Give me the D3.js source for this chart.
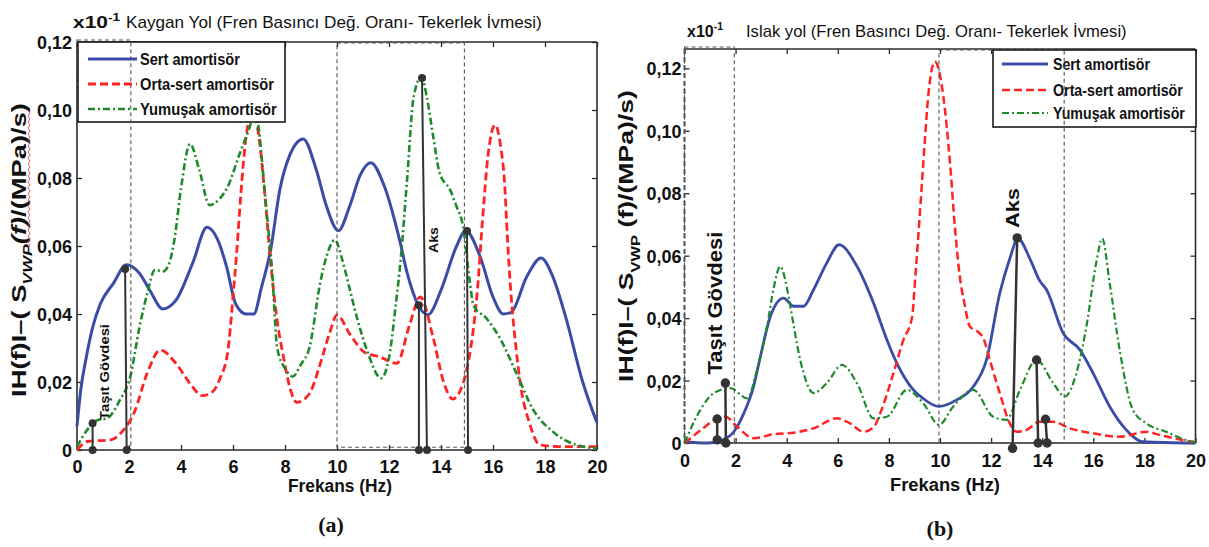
<!DOCTYPE html>
<html>
<head>
<meta charset="utf-8">
<script src="https://cdn.jsdelivr.net/npm/d3@7"></script>
<style>
  html, body { margin: 0; padding: 0; background: #fff; }
  svg { display: block; }
</style>
</head>
<body>
<svg id="fig" width="1209" height="547"></svg>
<script>
// ---------- shared axis data ----------
const freqTicks = [0, 2, 4, 6, 8, 10, 12, 14, 16, 18, 20];
const freqTickLabels = ["0", "2", "4", "6", "8", "10", "12", "14", "16", "18", "20"];
const ampTicks = [0, 0.02, 0.04, 0.06, 0.08, 0.10, 0.12];
const ampTickLabels = ["0", "0,02", "0,04", "0,06", "0,08", "0,10", "0,12"];
const seriesNames = ["Sert amortisör", "Orta-sert amortisör", "Yumuşak amortisör"];

// ---------- (a) slippery road: [frequency Hz, |H(f)|] ----------
const sertA = [
  [0, 0.007], [0.15, 0.018], [0.35, 0.027], [0.6, 0.036], [0.9, 0.043], [1.4, 0.049],
  [1.9, 0.0545], [2.4, 0.052], [2.8, 0.047], [3.3, 0.0415], [3.8, 0.044], [4.45, 0.055],
  [5.0, 0.0655], [5.4, 0.062], [5.75, 0.054], [6.1, 0.043], [6.5, 0.040], [6.8, 0.040],
  [7.1, 0.048], [7.45, 0.059], [7.8, 0.0765], [8.2, 0.087], [8.7, 0.0915], [9.2, 0.0825],
  [9.6, 0.0716], [10.05, 0.0645], [10.5, 0.072], [10.9, 0.081], [11.3, 0.0845], [11.8, 0.078],
  [12.4, 0.062], [12.7, 0.052], [13.1, 0.043], [13.5, 0.0398], [14.0, 0.047], [14.6, 0.060],
  [14.95, 0.0645], [15.5, 0.057], [16.0, 0.045], [16.4, 0.040], [16.7, 0.0405], [17.3, 0.051],
  [17.85, 0.0565], [18.3, 0.051], [18.8, 0.039], [19.45, 0.020], [20, 0.008]
];
const ortaA = [
  [0, 0], [0.4, 0.0025], [1.3, 0.003], [1.8, 0.006], [2.2, 0.011], [2.7, 0.0226], [3.2, 0.0294],
  [3.8, 0.0255], [4.4, 0.019], [4.8, 0.016], [5.15, 0.0167], [5.5, 0.021], [5.8, 0.029],
  [6.0, 0.045], [6.15, 0.059], [6.3, 0.075], [6.5, 0.092], [6.75, 0.099], [7.0, 0.092],
  [7.2, 0.077], [7.45, 0.055], [7.7, 0.038], [7.95, 0.027], [8.2, 0.018], [8.45, 0.014],
  [8.95, 0.0167], [9.3, 0.024], [9.7, 0.034], [10.0, 0.0397], [10.5, 0.034], [11.1, 0.0285],
  [11.6, 0.0275], [12.3, 0.0255], [12.8, 0.037], [13.2, 0.045], [13.7, 0.033], [14.1, 0.020],
  [14.45, 0.015], [14.85, 0.0196], [15.0, 0.024], [15.2, 0.033], [15.4, 0.047], [15.6, 0.068],
  [15.8, 0.086], [16.08, 0.0956], [16.3, 0.089], [16.45, 0.078], [16.55, 0.063], [16.7, 0.045],
  [16.9, 0.029], [17.05, 0.0196], [17.4, 0.008], [17.8, 0.0015], [18.5, 0.001], [20, 0.001]
];
const yumusakA = [
  [0, 0.001], [0.4, 0.006], [0.8, 0.0088], [1.15, 0.0093], [1.65, 0.0147], [2.05, 0.0216],
  [2.4, 0.036], [2.7, 0.046], [3.0, 0.053], [3.3, 0.0525], [3.55, 0.055], [3.75, 0.062],
  [4.0, 0.077], [4.35, 0.090], [4.7, 0.0825], [5.1, 0.072], [5.5, 0.074], [5.8, 0.0775],
  [6.25, 0.087], [6.6, 0.094], [6.85, 0.099], [7.0, 0.094], [7.15, 0.082], [7.3, 0.0696],
  [7.5, 0.053], [7.7, 0.030], [8.0, 0.024], [8.3, 0.0216], [8.6, 0.025], [8.95, 0.0304],
  [9.35, 0.049], [9.6, 0.057], [9.92, 0.0618], [10.2, 0.056], [10.5, 0.047], [10.8, 0.038],
  [11.15, 0.0294], [11.7, 0.0211], [12.05, 0.0294], [12.25, 0.042], [12.45, 0.056], [12.7, 0.080],
  [12.95, 0.104], [13.25, 0.1098], [13.45, 0.104], [13.7, 0.0922], [13.95, 0.0814], [14.35, 0.0765],
  [14.6, 0.0716], [14.85, 0.0657], [15.1, 0.050], [15.25, 0.0425], [15.75, 0.0387], [16.3, 0.0324],
  [16.9, 0.0226], [17.55, 0.0118], [18.3, 0.0054], [19.2, 0.0015], [20, 0.0005]
];
// resonance markers (top frequency, base frequency, amplitude)
const stemTopFreqA = [0.6, 1.85, 13.15, 13.27, 15.0];
const stemBaseFreqA = [0.6, 1.91, 13.15, 13.46, 15.04];
const stemValA = [0.0079, 0.0532, 0.0426, 0.1094, 0.0644];
const stemBaseValA = [0, 0, 0, 0, 0];
const bodyBandA = [0, 2.07];
const axleBandA = [10, 14.9];

// ---------- (b) wet road ----------
const sertB = [
  [0, 0.0004], [0.9, 0], [1.5, 0.001], [1.93, 0.0036], [2.32, 0.0095], [2.7, 0.018],
  [2.97, 0.0277], [3.36, 0.0405], [3.88, 0.0464], [4.27, 0.0438], [4.66, 0.0438], [5.05, 0.0491],
  [5.57, 0.0577], [6.05, 0.0635], [6.75, 0.0566], [7.4, 0.0448], [7.92, 0.0331], [8.31, 0.0256],
  [8.96, 0.017], [9.3, 0.0145], [9.96, 0.0117], [10.65, 0.0138], [11.3, 0.018], [11.82, 0.0266],
  [12.34, 0.048], [12.73, 0.059], [13.05, 0.0655], [13.52, 0.059], [13.9, 0.052], [14.17, 0.0491],
  [14.82, 0.0352], [15.47, 0.0299], [15.99, 0.0224], [16.64, 0.0117], [17.29, 0.0042],
  [17.94, 0.0004], [20, 0]
];
const ortaB = [
  [0, 0], [0.62, 0.004], [1.28, 0.0079], [1.6, 0.0084], [2.06, 0.0052], [2.71, 0.0015],
  [3.49, 0.0028], [4.27, 0.0033], [5.05, 0.0047], [5.96, 0.0079], [6.48, 0.0063], [7.0, 0.0036],
  [7.4, 0.005], [7.66, 0.0095], [8.18, 0.0224], [8.57, 0.0331], [8.9, 0.040], [9.05, 0.055],
  [9.2, 0.072], [9.35, 0.090], [9.55, 0.112], [9.8, 0.1222], [10.13, 0.111], [10.39, 0.0898],
  [10.59, 0.0684], [10.78, 0.053], [10.95, 0.045], [11.17, 0.0373], [11.5, 0.0355], [11.7, 0.0335],
  [11.95, 0.0266], [12.34, 0.016], [12.73, 0.0063], [13.0, 0.0036], [13.39, 0.0042], [13.9, 0.0068],
  [14.43, 0.0068], [15.08, 0.0047], [15.99, 0.0031], [17.03, 0.002], [18.07, 0.0036],
  [18.59, 0.0026], [19.9, 0.0004], [20, 0.0003]
];
const yumusakB = [
  [0, 0], [0.62, 0.0106], [1.15, 0.016], [1.8, 0.0176], [2.45, 0.0143], [2.84, 0.0234],
  [3.23, 0.0373], [3.5, 0.050], [3.75, 0.0566], [3.95, 0.052], [4.14, 0.0438], [4.53, 0.0266],
  [5.05, 0.016], [5.57, 0.0192], [6.16, 0.025], [6.75, 0.0192], [7.4, 0.0079], [7.92, 0.0084],
  [8.7, 0.017], [9.35, 0.0127], [9.96, 0.0058], [10.52, 0.0117], [11.3, 0.017], [12.08, 0.0084],
  [12.6, 0.0074], [13.13, 0.017], [13.78, 0.0266], [14.43, 0.0192], [14.88, 0.0149],
  [15.34, 0.0224], [15.73, 0.0373], [16.12, 0.058], [16.35, 0.0655], [16.64, 0.0513],
  [17.03, 0.0299], [17.55, 0.0106], [18.07, 0.0063], [18.85, 0.0036], [19.9, 0.0004], [20, 0.0003]
];
const stemTopFreqB = [1.28, 1.6, 13.02, 13.78, 14.13];
const stemBaseFreqB = [1.28, 1.62, 12.84, 13.84, 14.19];
const stemValB = [0.0077, 0.0192, 0.0657, 0.0266, 0.0076];
const stemBaseValB = [0.001, 0, -0.0017, 0, 0];
const bodyBandB = [0, 1.95];
const axleBandB = [9.96, 14.86];

// ---------- styling ----------
const SANS = "'Liberation Sans', Arial, Helvetica, sans-serif";
const NARROW = "'Liberation Sans Narrow', 'Liberation Sans', Arial, sans-serif";
const SERIF = "'Liberation Serif', 'Times New Roman', serif";
const BLUE = "#3a4ca8", RED = "#ff2424", GREEN = "#1f8a2c", INK = "#2b2b2b";

const svg = d3.select("#fig");

// Text helper: optional rotation, rich parts (italic/sub/sup) and width fitting
function addText(parent, o) {
  const g = parent.append("g")
    .attr("transform", `translate(${o.x},${o.y})` + (o.rot ? ` rotate(${o.rot})` : ""));
  const t = g.append("text")
    .attr("text-anchor", o.anchor || "start")
    .attr("font-family", o.family || SANS)
    .attr("font-size", o.size)
    .attr("font-weight", o.weight || "bold")
    .attr("fill", o.fill || "#111");
  const parts = o.parts || [{ t: o.text }];
  let shift = 0;
  parts.forEach(pt => {
    const ts = t.append("tspan").text(pt.t);
    const want = pt.sub ? o.size * 0.32 : pt.sup ? -o.size * 0.42 : 0;
    if (want !== shift) { ts.attr("dy", want - shift); shift = want; }
    if (pt.italic) ts.attr("font-style", "italic");
    if (pt.size) ts.attr("font-size", pt.size);
    if (pt.weight) ts.attr("font-weight", pt.weight);
  });
  if (o.len) {
    const w = t.node().getComputedTextLength();
    if (w > 0) t.attr("transform", `scale(${o.len / w},1)`);
  }
  return t;
}

function drawPanel(p) {
  const g = svg.append("g");
  const x = d3.scaleLinear().domain([0, 20]).range([p.left, p.right]);
  const y = d3.scaleLinear().domain([0, p.yTop]).range([p.bottom, p.top]);

  // inward ticks on all four sides
  const tickStyle = s => {
    s.select(".domain").remove();
    s.selectAll(".tick line").attr("stroke", INK).attr("stroke-width", 1.3);
  };
  g.append("g").attr("transform", `translate(0,${p.bottom})`)
    .call(d3.axisBottom(x).tickValues(freqTicks).tickFormat((d, i) => freqTickLabels[i])
      .tickSizeInner(-5).tickSizeOuter(0))
    .call(tickStyle)
    .call(s => s.selectAll("text").attr("y", p.xTickY).attr("dy", 0)
      .attr("font-family", SANS).attr("font-weight", "bold").attr("font-size", 18).attr("fill", "#111"));
  g.append("g").attr("transform", `translate(0,${p.top})`)
    .call(d3.axisTop(x).tickValues(freqTicks).tickFormat(() => "").tickSizeInner(-5).tickSizeOuter(0))
    .call(tickStyle);
  g.append("g").attr("transform", `translate(${p.left},0)`)
    .call(d3.axisLeft(y).tickValues(ampTicks).tickFormat((d, i) => ampTickLabels[i])
      .tickSizeInner(-5).tickSizeOuter(0).tickPadding(p.yTickPad))
    .call(tickStyle)
    .call(s => s.selectAll("text").attr("x", -p.yTickPad).attr("dy", "0.36em")
      .attr("font-family", SANS).attr("font-weight", "bold").attr("font-size", 18).attr("fill", "#111"));
  g.append("g").attr("transform", `translate(${p.right},0)`)
    .call(d3.axisRight(y).tickValues(ampTicks).tickFormat(() => "").tickSizeInner(-5).tickSizeOuter(0))
    .call(tickStyle);

  // frame
  const frame = g.append("g").attr("stroke", INK).attr("stroke-width", 1.6).attr("fill", "none");
  frame.append("line").attr("x1", p.left).attr("x2", p.right).attr("y1", p.top).attr("y2", p.top);
  frame.append("line").attr("x1", p.left).attr("x2", p.right).attr("y1", p.bottom).attr("y2", p.bottom);
  frame.append("line").attr("x1", p.right).attr("x2", p.right).attr("y1", p.top).attr("y2", p.bottom);
  frame.append("line").attr("x1", p.left).attr("x2", p.left).attr("y1", p.top).attr("y2", p.bottom)
    .attr("stroke", p.leftDashed ? "#555" : INK)
    .attr("stroke-width", p.leftDashed ? 2 : 1.6)
    .attr("stroke-dasharray", p.leftDashed ? "5,3" : null);

  // response curves
  const line = d3.line().x(d => x(d[0])).y(d => y(d[1])).curve(d3.curveMonotoneX);
  const styles = [
    { data: p.sert, color: BLUE, w: p.wBlue, dash: null },
    { data: p.orta, color: RED, w: p.wRed, dash: "8,4" },
    { data: p.yumusak, color: GREEN, w: p.wGreen, dash: "7,3,2,3" }
  ];
  styles.forEach(s => {
    g.append("path").datum(s.data).attr("d", line).attr("fill", "none")
      .attr("stroke", s.color).attr("stroke-width", s.w)
      .attr("stroke-dasharray", s.dash).attr("stroke-linejoin", "round");
  });

  // legend
  const L = p.legend;
  g.append("rect").attr("x", L.x0).attr("y", L.y0).attr("width", L.x1 - L.x0).attr("height", L.y1 - L.y0)
    .attr("fill", "#fff").attr("stroke", "#1a1a1a").attr("stroke-width", 1.6);
  styles.forEach((s, i) => {
    g.append("line").attr("x1", L.lx0).attr("x2", L.lx1).attr("y1", L.rows[i]).attr("y2", L.rows[i])
      .attr("stroke", s.color).attr("stroke-width", s.w).attr("stroke-dasharray", s.dash);
    addText(g, { x: L.tx, y: L.rows[i] + 6, text: seriesNames[i], size: 16, family: NARROW, len: L.lens[i] });
  });

  // dashed band outlines (vehicle body / axle ranges)
  const guides = g.append("g").attr("fill", "none").attr("stroke", "#555")
    .attr("stroke-width", 1.1).attr("stroke-dasharray", "4,3");
  guides.append("rect").attr("x", x(p.bodyBand[0])).attr("width", x(p.bodyBand[1]) - x(p.bodyBand[0]))
    .attr("y", p.top - 2).attr("height", p.bottom - p.top + 2);
  guides.append("rect").attr("x", x(p.axleBand[0])).attr("width", x(p.axleBand[1]) - x(p.axleBand[0]))
    .attr("y", p.top + 1).attr("height", y(p.axleBandFloor) - p.top - 1);

  // resonance markers
  p.stemTop.forEach((f, i) => {
    g.append("line").attr("x1", x(p.stemBase[i])).attr("y1", y(p.stemBaseVal[i]))
      .attr("x2", x(f)).attr("y2", y(p.stemVal[i]))
      .attr("stroke", "#333").attr("stroke-width", p.stemW);
    g.append("circle").attr("cx", x(f)).attr("cy", y(p.stemVal[i])).attr("r", p.dotR).attr("fill", "#333");
    g.append("circle").attr("cx", x(p.stemBase[i])).attr("cy", y(p.stemBaseVal[i])).attr("r", p.dotR).attr("fill", "#333");
  });
  return { g, x, y };
}

// ---------- panel (a) ----------
const A = drawPanel({
  left: 77, right: 597, top: 42, bottom: 450, yTop: 0.12, xTickY: 23, yTickPad: 5,
  sert: sertA, orta: ortaA, yumusak: yumusakA, wBlue: 3, wRed: 2.8, wGreen: 2.6,
  legend: { x0: 78, x1: 285, y0: 42, y1: 122, lx0: 88, lx1: 137, tx: 140,
            rows: [59, 84, 109], lens: [100, 134, 137] },
  bodyBand: bodyBandA, axleBand: axleBandA, axleBandFloor: 0.0008,
  stemTop: stemTopFreqA, stemBase: stemBaseFreqA, stemVal: stemValA, stemBaseVal: stemBaseValA,
  stemW: 2, dotR: 4
});
addText(svg, { x: 73, y: 28, size: 17, len: 47,
  parts: [{ t: "x10" }, { t: "-1", sup: true, size: 11 }] });
addText(svg, { x: 126, y: 28, size: 17, weight: "normal", family: NARROW, len: 416,
  text: "Kaygan Yol (Fren Basıncı Değ. Oranı- Tekerlek İvmesi)" });
addText(svg, { x: 26, y: 250, rot: -90, anchor: "middle", size: 20, len: 294,
  parts: [{ t: "IH(f)I–( " }, { t: "S" }, { t: "VWP", sub: true, italic: true, size: 13 },
          { t: "(f)", italic: true }, { t: "/(MPa)/s)" }] });
// spell-check squiggle under the symbol part of the axis title
svg.append("path")
  .attr("d", d3.range(0, 47).map(i => `${i ? "L" : "M"}${i % 2 ? 30 : 28},${110 + i * 3}`).join(""))
  .attr("fill", "none").attr("stroke", "#e03030").attr("stroke-width", 0.8);
addText(svg, { x: 340, y: 492, anchor: "middle", size: 19, family: NARROW, len: 104, text: "Frekans (Hz)" });
addText(svg, { x: 331, y: 532, anchor: "middle", size: 22, family: SERIF, text: "(a)" });
addText(svg, { x: 109, y: 372, rot: -90, anchor: "middle", size: 13, len: 96, text: "Taşıt Gövdesi" });
addText(svg, { x: 438, y: 240, rot: -90, anchor: "middle", size: 13, len: 26, text: "Aks" });

// ---------- panel (b) ----------
const B = drawPanel({
  left: 684.5, right: 1195.5, top: 49, bottom: 443, yTop: 0.1262, xTickY: 24, yTickPad: 3,
  sert: sertB, orta: ortaB, yumusak: yumusakB, wBlue: 2.8, wRed: 2.5, wGreen: 2.2,
  leftDashed: true,
  legend: { x0: 993, x1: 1196, y0: 50, y1: 127, lx0: 1002, lx1: 1048, tx: 1053,
            rows: [64, 90, 113], lens: [97, 130, 132] },
  bodyBand: bodyBandB, axleBand: axleBandB, axleBandFloor: 0,
  stemTop: stemTopFreqB, stemBase: stemBaseFreqB, stemVal: stemValB, stemBaseVal: stemBaseValB,
  stemW: 2.5, dotR: 4.7
});
addText(svg, { x: 687, y: 37, size: 17, len: 36,
  parts: [{ t: "x10" }, { t: "-1", sup: true, size: 11 }] });
addText(svg, { x: 746, y: 37, size: 17, weight: "normal", family: NARROW, len: 381,
  text: "Islak yol (Fren Basıncı Değ. Oranı- Tekerlek İvmesi)" });
addText(svg, { x: 633, y: 236, rot: -90, anchor: "middle", size: 21, len: 292,
  parts: [{ t: "IH(f)I–( S" }, { t: "VWP", sub: true, size: 13 }, { t: " (f)/(MPa)/s)" }] });
addText(svg, { x: 945, y: 491, anchor: "middle", size: 19, family: NARROW, len: 110, text: "Frekans (Hz)" });
addText(svg, { x: 940, y: 536, anchor: "middle", size: 22, family: SERIF, text: "(b)" });
addText(svg, { x: 722, y: 303, rot: -90, anchor: "middle", size: 20, len: 143, text: "Taşıt Gövdesi" });
addText(svg, { x: 1019, y: 208, rot: -90, anchor: "middle", size: 19, len: 40, text: "Aks" });
</script>
</body>
</html>
